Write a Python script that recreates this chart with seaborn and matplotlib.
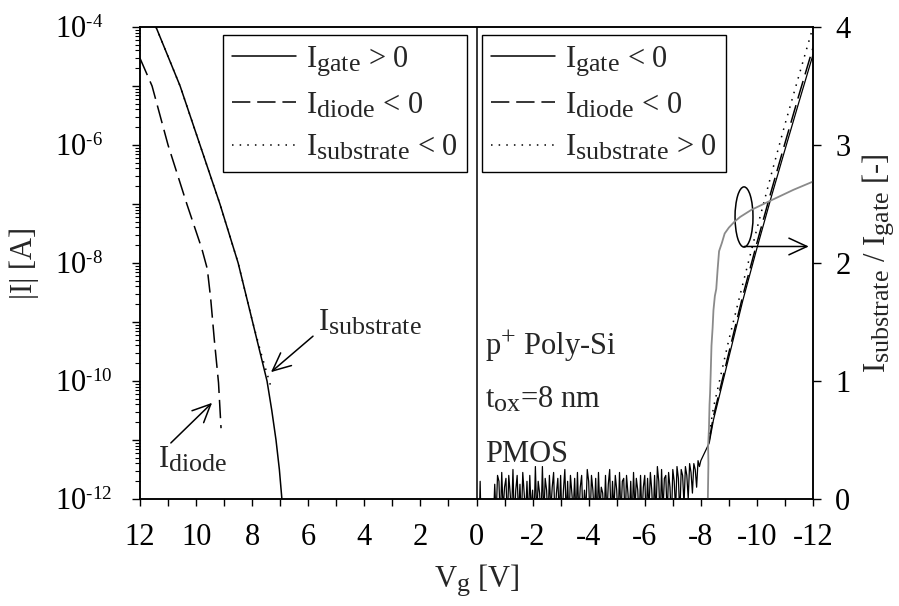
import numpy as np
import pandas as pd
import matplotlib
matplotlib.use("Agg")
import matplotlib.pyplot as plt
import matplotlib._mathtext as mtext
import seaborn as sns
from matplotlib.lines import Line2D
from matplotlib.patches import Ellipse
from matplotlib.ticker import FixedLocator, FixedFormatter, NullFormatter

# ---------------- data (log10 |I| in A, Vg in V) ----------------
# positive gate bias (left half)
vg_pos_gate = [11.43, 10.57, 9.86, 9.15, 8.5, 8.0, 7.47, 7.3, 7.15, 7.03, 6.94, 6.9]
log_pos_gate = [-4.0, -5.0, -6.0, -7.0, -8.0, -8.97, -10.0, -10.5, -11.0, -11.5, -12.0, -12.2]

vg_pos_diode = [12.0, 11.57, 11.0, 10.33, 9.8, 9.6, 9.48, 9.35, 9.2, 9.11]
log_pos_diode = [-4.53, -5.0, -6.0, -7.0, -7.75, -8.1, -8.6, -9.3, -10.03, -10.8]

vg_pos_sub = [11.43, 10.57, 9.86, 9.15, 8.5, 8.0, 7.7, 7.33]
log_pos_sub = [-4.0, -5.0, -6.0, -7.0, -8.0, -8.97, -9.5, -10.1]

# negative gate bias (right half): noise floor of the gate current
vg_noise_a = [-0.10, -0.13, -0.16]
log_noise_a = [-12.4, -11.7, -12.4]
noise_start, noise_step = -0.60, -0.05
log_noise_b = [
    -12.4, -11.75, -12.3, -11.6, -11.7, -12.4, -11.55, -12.2, -11.8, -11.65,
    -12.4, -11.6, -11.9, -12.3, -11.5, -12.4, -11.85, -11.6, -12.3, -11.75,
    -12.4, -11.55, -11.9, -12.3, -11.7, -12.4, -11.6, -12.2, -11.85,
    -12.4, -11.45, -12.3, -11.7, -11.9, -12.4, -11.45, -12.3, -11.65, -11.85,
    -12.4, -11.6, -12.2, -11.8, -11.55, -12.4, -11.9, -11.65, -12.3, -11.6,
    -12.4, -11.85, -11.5, -12.3, -11.7, -12.4, -11.6, -11.9, -12.2, -11.65,
    -12.4, -11.55, -12.3, -11.8, -11.6, -12.4, -11.85, -12.2, -11.5, -11.7,
    -12.4, -11.6, -11.85, -12.3, -11.65, -12.4, -11.55, -12.2, -11.8, -11.9,
    -12.4, -11.6, -12.3, -11.75, -11.5, -12.4, -11.7, -12.2, -11.6, -11.85,
    -12.4, -11.55, -12.3, -11.7, -11.65, -12.4, -11.6, -11.9, -12.3, -11.7,
    -12.4, -11.55, -12.2, -11.65, -11.85, -12.4, -11.6, -12.3, -11.8, -11.6,
    -12.4, -11.65, -12.2, -11.55, -11.85, -12.4, -11.6, -12.3, -11.45, -11.7,
    -12.4, -11.5, -12.2, -11.65, -11.6, -12.3, -11.55, -11.8, -12.4, -11.5,
    -11.7, -12.2, -11.45, -11.65, -12.3, -11.5, -11.6, -12.1, -11.45, -11.6,
    -12.0, -11.4, -11.55, -11.9, -11.4, -11.5, -11.8, -11.35, -11.45,
]
vg_neg_gate = [-8.0, -8.15, -8.3, -8.45, -9.0, -9.5, -10.0, -10.5, -11.0, -11.5, -12.0]
log_neg_gate = [-11.35, -11.2, -11.05, -10.66, -9.6, -8.63, -7.75, -6.9, -6.08, -5.27, -4.47]

vg_neg_diode = [-8.3, -8.45, -9.0, -9.5, -10.0, -10.5, -11.0, -11.5, -12.0]
log_neg_diode = [-11.0, -10.6, -9.52, -8.55, -7.66, -6.8, -5.97, -5.15, -4.35]

vg_neg_sub = [-8.3, -8.45, -9.0, -9.5, -10.0, -10.5, -11.0, -11.5, -12.0]
log_neg_sub = [-10.9, -10.45, -9.3, -8.35, -7.42, -6.52, -5.65, -4.82, -4.0]

# ratio Isubstrate / Igate (right axis)
vg_ratio = [-8.25, -8.27, -8.26, -8.29, -8.31, -8.33, -8.35, -8.38, -8.42, -8.45, -8.5,
            -8.55, -8.6, -8.65, -8.75, -8.85, -9.0, -9.2, -9.4, -9.8, -10.5,
            -11.3, -12.0]
ratio = [0.0, 0.3, 0.45, 0.6, 0.8, 0.9, 1.05, 1.3, 1.45, 1.6, 1.72,
         1.78, 1.95, 2.1, 2.17, 2.25, 2.3, 2.35, 2.39, 2.45, 2.53,
         2.62, 2.69]

xtick_vals = [12, 10, 8, 6, 4, 2, 0, -2, -4, -6, -8, -10, -12]
xtick_labels = ["12", "10", "8", "6", "4", "2", "0", "-2", "-4", "-6", "-8", "-10", "-12"]
ydecades = [-12, -11, -10, -9, -8, -7, -6, -5, -4]
ylabel_decades = [-12, -10, -8, -6, -4]

# ---------------- style ----------------
sns.set_style("ticks")
plt.rcParams.update({
    "font.family": ["Liberation Serif", "DejaVu Serif"],
    "mathtext.fontset": "custom",
    "mathtext.rm": "Liberation Serif",
    "mathtext.it": "Liberation Serif:italic",
    "mathtext.bf": "Liberation Serif:bold",
    "axes.unicode_minus": False,
    "axes.linewidth": 1.1,
    "axes.edgecolor": "black",
    "xtick.color": "black",
    "ytick.color": "black",
})
FS = 22

fig = plt.figure(figsize=(8.99, 6.06), dpi=100)
ax = fig.add_axes([140 / 899, 107 / 606, 673 / 899, 472 / 606])
ax2 = ax.twinx()

LW = 1.1
dash = (0, (12, 4.5))
dot = (0, (1, 4))


def draw(axis, xs, ys, **kw):
    df = pd.DataFrame({"x": xs, "y": ys})
    sns.lineplot(data=df, x="x", y="y", ax=axis, estimator=None, sort=False,
                 legend=False, **kw)


# left half
draw(ax, vg_pos_gate, 10.0 ** np.array(log_pos_gate), color="black", lw=LW)
draw(ax, vg_pos_diode, 10.0 ** np.array(log_pos_diode), color="black", lw=LW, linestyle=dash)
draw(ax, vg_pos_sub, 10.0 ** np.array(log_pos_sub), color="black", lw=LW, linestyle=dot)

# right half
vg_noise_b = noise_start + noise_step * np.arange(len(log_noise_b))
draw(ax, vg_noise_a, 10.0 ** np.array(log_noise_a), color="black", lw=0.9)
vg_gate_full = np.concatenate([vg_noise_b, vg_neg_gate])
log_gate_full = np.concatenate([log_noise_b, log_neg_gate])
draw(ax, vg_gate_full, 10.0 ** log_gate_full, color="black", lw=0.9)
draw(ax, vg_neg_diode, 10.0 ** np.array(log_neg_diode), color="black", lw=LW, linestyle=dash)
draw(ax, vg_neg_sub, 10.0 ** np.array(log_neg_sub), color="black", lw=LW, linestyle=dot)

draw(ax2, vg_ratio, ratio, color="#8a8a8a", lw=1.3)

ax.axvline(0, color="black", lw=1.1)

# axes setup
ax.set_yscale("log")
ax.set_xlim(12, -12)
ax.set_ylim(1e-12, 1e-4)
ax2.set_ylim(0, 4)
ax.set_xlabel("")
ax.set_ylabel("")
ax2.set_ylabel("")

ax.xaxis.set_major_locator(FixedLocator(xtick_vals))
ax.xaxis.set_major_formatter(FixedFormatter(xtick_labels))
ax.xaxis.set_minor_locator(FixedLocator(np.arange(-12, 13, 1)))
ax.tick_params(axis="x", which="both", direction="out", length=5, width=1.0,
               labelsize=FS, pad=12, top=False)

ax.yaxis.set_major_locator(FixedLocator([10.0 ** d for d in ydecades]))
ax.yaxis.set_major_formatter(FixedFormatter(
    [("$\\mathregular{10^{\N{HYPHEN}%d}}$" % (-d)) if d in ylabel_decades else ""
     for d in ydecades]))
minor = [m * 10.0 ** d for d in ydecades[:-1] for m in range(2, 10)]
ax.yaxis.set_minor_locator(FixedLocator(minor))
ax.yaxis.set_minor_formatter(NullFormatter())
ax.tick_params(axis="y", which="major", direction="out", length=6, width=1.0,
               labelsize=FS, pad=55)
ax.tick_params(axis="y", which="minor", direction="out", length=3.5, width=0.8)
for lab in ax.get_yticklabels():
    lab.set_horizontalalignment("left")

ax2.set_yticks([0, 1, 2, 3, 4])
ax2.set_yticklabels(["0", "1", "2", "3", "4"])
ax2.tick_params(axis="y", direction="out", length=6, width=1.0, labelsize=FS, pad=10)

for a in (ax, ax2):
    for s in a.spines.values():
        s.set_visible(True)
        s.set_linewidth(1.1)
        s.set_color("black")

# tick-label exponents are small; render them first with a small script factor
mtext.SHRINK_FACTOR = 0.62
fig.canvas.draw()
# subscripts in the labels are nearly full size
mtext.SHRINK_FACTOR = 0.85

ax.set_xlabel(r"$\mathregular{V_g}$ [V]", fontsize=FS)
ax.xaxis.set_label_coords(0.5, -0.135)
ax.set_ylabel("|I| [A]", fontsize=FS)
ax.yaxis.set_label_coords(-0.15, 0.5)
ax2.set_ylabel(r"$\mathregular{I_{substrate}}$ / $\mathregular{I_{gate}}$ [-]", fontsize=FS)
ax2.yaxis.set_label_coords(1.07, 0.5)

# legends
LFS = 22
h_left = [Line2D([], [], color="black", lw=LW),
          Line2D([], [], color="black", lw=LW, linestyle=dash),
          Line2D([], [], color="black", lw=LW, linestyle=dot)]
lab_left = [r"$\mathregular{I_{gate}}$ > 0", r"$\mathregular{I_{diode}}$ < 0",
            r"$\mathregular{I_{substrate}}$ < 0"]
lab_right = [r"$\mathregular{I_{gate}}$ < 0", r"$\mathregular{I_{diode}}$ < 0",
             r"$\mathregular{I_{substrate}}$ > 0"]
legkw = dict(loc="upper left", fontsize=LFS, frameon=True, fancybox=False,
             framealpha=1, edgecolor="black", borderaxespad=0, handlelength=2.1,
             handletextpad=0.32, labelspacing=0.42, borderpad=0.3)
leg1 = ax2.legend(h_left, lab_left, bbox_to_anchor=(0.123, 0.983), **legkw)
leg1.get_frame().set_linewidth(1.0)
ax2.add_artist(leg1)
leg2 = ax2.legend(h_left, lab_right, bbox_to_anchor=(0.508, 0.983), **legkw)
leg2.get_frame().set_linewidth(1.0)

# annotations
arrow = dict(arrowstyle="->,head_length=0.65,head_width=0.3", color="black", lw=1.1,
             mutation_scale=20, shrinkA=0, shrinkB=0)
ax.annotate("", xy=(7.33, 10 ** -9.85), xytext=(5.83, 10 ** -9.24), arrowprops=arrow)
ax.text(5.65, 10 ** -9.14, r"$\mathregular{I_{substrate}}$", fontsize=LFS, ha="left",
        va="baseline")
ax.annotate("", xy=(9.43, 10 ** -10.37), xytext=(10.9, 10 ** -11.05), arrowprops=arrow)
ax.text(11.36, 10 ** -11.46, r"$\mathregular{I_{diode}}$", fontsize=LFS, ha="left",
        va="baseline")

ax.text(0.513, 0.305, r"$\mathregular{p^{+}}$ Poly-Si", transform=ax.transAxes,
        fontsize=FS, ha="left", va="baseline")
ax.text(0.513, 0.193, r"$\mathregular{t_{ox}}$=8 nm", transform=ax.transAxes,
        fontsize=FS, ha="left", va="baseline")
ax.text(0.513, 0.078, "PMOS", transform=ax.transAxes,
        fontsize=FS, ha="left", va="baseline")

ax2.add_patch(Ellipse((-9.54, 2.39), 0.64, 0.51, fill=False, edgecolor="black", lw=1.1))
ax2.annotate("", xy=(-11.85, 2.14), xytext=(-9.54, 2.14), arrowprops=arrow)

fig.savefig("out.png", dpi=100)
